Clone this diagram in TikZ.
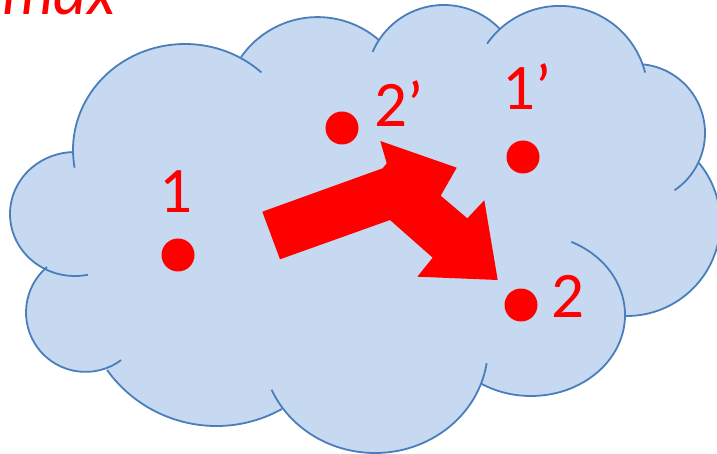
\documentclass[tikz,border=0pt]{standalone}
\usepackage{fontspec}
\setmainfont{Carlito}
\usetikzlibrary{calc}
\definecolor{cloudfill}{HTML}{C6D9F1}
\definecolor{cloudline}{HTML}{4A7EBB}
\definecolor{markred}{HTML}{FF0000}
\tikzset{
  rim/.style={draw=cloudline, line width=1.8pt},
  dot/.style={circle, fill=markred, inner sep=0pt, minimum size=33pt},
  lbl/.style={text=markred, inner sep=0pt, font=\fontsize{65}{65}\selectfont},
  ilbl/.style={text=markred, inner sep=0pt, font=\itshape\fontsize{65}{65}\selectfont},
}
\begin{document}
\begin{tikzpicture}[x=1pt, y=1pt, yscale=-1]
\useasboundingbox (0,0) rectangle (717,454);
\clip (0,0) rectangle (717,454);

% cloud body: one closed outline made of lobe arcs
\fill[cloudfill]
  ($(185,150)+(177.8:112pt and 106pt)$) arc[start angle=177.8, end angle=299.7, x radius=112pt, y radius=106pt]
  -- ($(317.6,110.4)+(214.9:93.3pt)$) arc[start angle=214.9, end angle=311.1, radius=93.3pt]
  -- ($(443.8,82.5)+(213.3:77.5pt)$) arc[start angle=213.3, end angle=316.4, radius=77.5pt]
  -- ($(559.5,94.2)+(227.6:88.3pt)$) arc[start angle=227.6, end angle=339.3, radius=88.3pt]
  -- ($(636,133)+(274.9:69pt)$) arc[start angle=274.9, end angle=385.5, radius=69pt]
  -- ($(626.7,222.4)+(320.6:93.6pt)$) arc[start angle=320.6, end angle=451, radius=93.6pt]
  -- ($(531,315)+(0:94pt and 81pt)$) arc[start angle=0, end angle=122.5, x radius=94pt, y radius=81pt]
  -- ($(375,347)+(20.6:113pt and 106pt)$) arc[start angle=20.6, end angle=144.6, x radius=113pt, y radius=106pt]
  -- ($(216.4,291.2)+(60.9:134.8pt)$) arc[start angle=60.9, end angle=144.2, radius=134.8pt]
  -- ($(85.5,312.4)+(69.5:59.5pt)$) arc[start angle=69.5, end angle=229.7, radius=59.5pt]
  -- ($(75,214)+(116.7:65pt and 62pt)$) arc[start angle=116.7, end angle=269.1, x radius=65pt, y radius=62pt]
  -- cycle;

% cloud rim: each lobe, with the short inner tails
\draw[rim] ($(185,150)+(170.4:112pt and 106pt)$) arc[start angle=170.4, end angle=313, x radius=112pt, y radius=106pt];
\draw[rim] ($(317.6,110.4)+(214.9:93.3pt)$) arc[start angle=214.9, end angle=311.1, radius=93.3pt];
\draw[rim] ($(443.8,82.5)+(203.2:77.5pt)$) arc[start angle=203.2, end angle=316.4, radius=77.5pt];
\draw[rim] ($(559.5,94.2)+(214.9:88.3pt)$) arc[start angle=214.9, end angle=345.8, radius=88.3pt];
\draw[rim] ($(636,133)+(274.9:69pt)$) arc[start angle=274.9, end angle=416.1, radius=69pt];
\draw[rim] ($(626.7,222.4)+(320.6:93.6pt)$) arc[start angle=320.6, end angle=451, radius=93.6pt];
\draw[rim] ($(531,315)+(295.4:94pt and 81pt)$) arc[start angle=295.4, end angle=482.5, x radius=94pt, y radius=81pt];
\draw[rim] ($(375,347)+(8.8:113pt and 106pt)$) arc[start angle=8.8, end angle=156.2, x radius=113pt, y radius=106pt];
\draw[rim] ($(216.4,291.2)+(60.9:134.8pt)$) arc[start angle=60.9, end angle=144.2, radius=134.8pt];
\draw[rim] ($(85.5,312.4)+(53.3:59.5pt)$) arc[start angle=53.3, end angle=229.7, radius=59.5pt];
\draw[rim] ($(75,214)+(78.5:65pt and 62pt)$) arc[start angle=78.5, end angle=269.1, x radius=65pt, y radius=62pt];

% bent block arrow
\fill[markred] (262.3,211.7) -- (382.7,168.3) -- (386.7,163.3) -- (380.3,141)
  -- (456.7,167.7) -- (440.7,195.7) -- (467.3,218.3) -- (484.3,200.3)
  -- (497.7,280) -- (417.3,276.7) -- (432.7,257.7) -- (390,220)
  -- (280,259.3) -- cycle;

% points
\node[dot] (p1)  at (178,255) {};
\node[dot] (p2)  at (521,305) {};
\node[dot] (p1s) at (523,157) {};
\node[dot] (p2s) at (342,128) {};

% labels
\node[lbl, anchor=base] (t1)  at (175.5,212.3) {1};
\node[lbl, anchor=base] (t2)  at (568.3,317.7) {2};
\node[lbl, anchor=base west] (t1s) at (502.2,110) {1’};
\node[lbl, anchor=base west] (t2s) at (374.5,126.7) {2’};
\node[ilbl, anchor=base west] (tmax) at (2,15) {max};
\end{tikzpicture}
\end{document}
